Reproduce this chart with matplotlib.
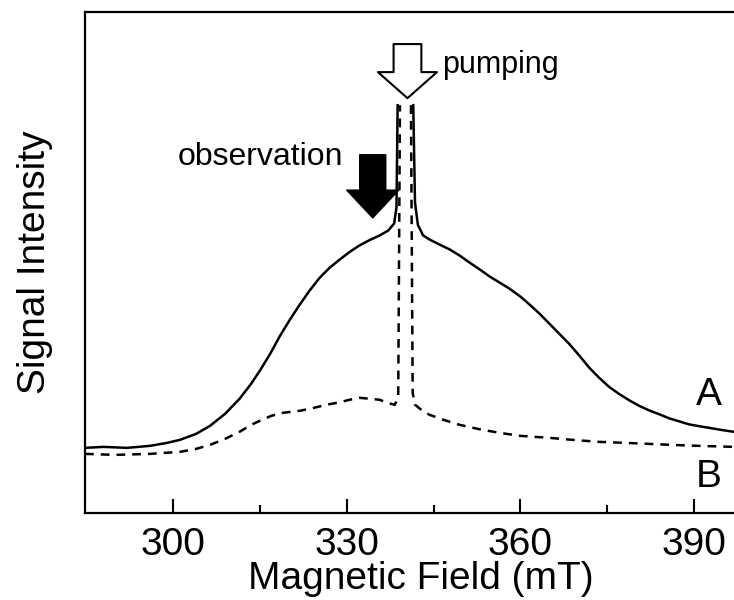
import numpy as np
import matplotlib.pyplot as plt

plt.rcParams['font.family'] = ['Liberation Sans', 'DejaVu Sans']

# trace A (solid), magnetic field in mT vs signal (arb. units); NaN = peak off scale
field_a = [284.8, 288, 292, 296, 299, 301.2, 304, 306.4, 309, 311.5, 313.5, 315, 316.8, 318.4,
           320.2, 321.9, 323.6, 325.3, 327, 328.8, 330.5, 332.2, 334, 335.7, 337.2, 338.2,
           338.6, 338.8, np.nan, 341.5, 341.8, 342.3, 343.2, 344.3, 346, 347.8, 349.5, 351.2,
           353, 354.7, 356.4, 358.1, 360, 361.6, 363.3, 365, 366.7, 368.4, 370.2, 371.9,
           373.6, 375.3, 377, 378.8, 380.5, 382.2, 384, 385.7, 387.4, 389.1, 391, 392.6,
           394.6, 396.9]
signal_a = [13.0, 13.2, 13.0, 13.4, 14.0, 14.6, 15.8, 17.4, 19.8, 22.8, 25.8, 28.4, 31.8, 35.2,
            38.6, 41.6, 44.4, 46.9, 48.9, 50.6, 52.1, 53.4, 54.5, 55.4, 56.4, 57.8,
            61.0, 81.4, np.nan, 81.4, 62.0, 57.5, 55.4, 54.6, 53.6, 52.6, 51.4, 50.0,
            48.6, 47.2, 46.0, 44.8, 43.2, 41.6, 39.8, 37.8, 35.8, 33.8, 31.4, 29.0,
            27.0, 25.2, 23.8, 22.5, 21.4, 20.5, 19.7, 18.9, 18.3, 17.7, 17.3, 17.0,
            16.6, 16.2]

# trace B (dashed)
field_b = [284.8, 290, 296, 301.2, 304, 306.4, 309, 311.5, 313.5, 315, 317, 319, 321.9, 324,
           326.5, 328.8, 330.5, 332.2, 334, 335.7, 337, 338.3, 338.9, 339.2, np.nan, 341.1,
           341.4, 341.8, 343, 344.3, 347, 349.5, 353, 356.4, 360, 365, 369, 373.6, 378,
           382.2, 386, 390.9, 396.9]
signal_b = [11.8, 11.6, 11.8, 12.2, 12.8, 13.6, 14.8, 16.2, 17.6, 18.4, 19.4, 20.0, 20.4, 20.9,
            21.6, 22.1, 22.6, 23.0, 22.8, 22.6, 22.0, 21.6, 23.0, 81.4, np.nan, 81.4,
            24.0, 21.6, 20.5, 19.6, 18.5, 17.6, 16.7, 16.0, 15.4, 15.0, 14.6, 14.2, 14.0,
            13.8, 13.6, 13.4, 13.2]

major_ticks = [300, 330, 360, 390]
minor_ticks = [315, 345, 375]

fig = plt.figure(figsize=(7.34, 6.0), dpi=100)
ax = fig.add_axes([0.1158, 0.145, 0.8842, 0.835])

ax.plot(field_a, signal_a, color='black', lw=1.8)
ax.plot(field_b, signal_b, color='black', lw=1.8, linestyle=(0, (3.5, 2.8)))

ax.set_xlim(284.8, 396.9)
ax.set_ylim(0, 100)
ax.set_xticks(major_ticks)
ax.set_xticks(minor_ticks, minor=True)
ax.set_yticks([])
ax.tick_params(axis='x', which='major', direction='in', length=10, width=1.5,
               labelsize=28, pad=10)
ax.tick_params(axis='x', which='minor', direction='in', length=6, width=1.5)
for s in ['left', 'top', 'bottom']:
    ax.spines[s].set_linewidth(1.6)
ax.spines['right'].set_visible(False)

ax.set_xlabel('Magnetic Field (mT)', fontsize=28, labelpad=0)
ax.xaxis.set_label_coords(0.518, -0.095)
ax.set_ylabel('Signal Intensity', fontsize=28)
ax.yaxis.set_label_coords(-0.05, 0.5)

# arrows
ax.annotate('', xy=(334.5, 58.9), xytext=(334.5, 71.5),
            arrowprops=dict(arrowstyle='simple,head_length=0.8,head_width=1.5,tail_width=0.75',
                            fc='black', ec='black', shrinkA=0, shrinkB=0, mutation_scale=25))
ax.annotate('', xy=(340.5, 82.8), xytext=(340.5, 93.6),
            arrowprops=dict(arrowstyle='simple,head_length=0.75,head_width=1.7,tail_width=0.8',
                            fc='white', ec='black', lw=1.5, shrinkA=0, shrinkB=0,
                            mutation_scale=25))

ax.text(329.3, 69.5, 'observation', fontsize=23, ha='right', va='baseline')
ax.text(346.4, 87.8, 'pumping', fontsize=22, ha='left', va='baseline')

ax.text(392.6, 23.6, 'A', fontsize=28, ha='center', va='center')
ax.text(392.6, 7.2, 'B', fontsize=28, ha='center', va='center')

fig.savefig('out.png', dpi=100)
